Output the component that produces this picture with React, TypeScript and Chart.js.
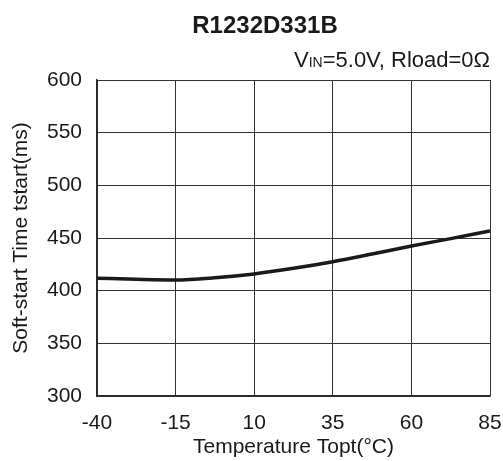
import React, { useEffect, useRef } from "react";
import { Chart, registerables } from "chart.js";

Chart.register(...registerables);

const temperatures = [-40, -27.5, -15, -2.5, 10, 22.5, 35, 47.5, 60, 72.5, 85];
const startTimes = [411.8, 410.8, 410.2, 412.3, 415.9, 421.2, 427.5, 434.8, 442.4, 449.4, 456.7];
const xTicks = [-40, -15, 10, 35, 60, 85];
const yTicks = [300, 350, 400, 450, 500, 550, 600];
const titleText = "R1232D331B";
const subtitleParts = ["V", "IN", "=5.0V, Rload=0Ω"];
const xTitle = "Temperature Topt(°C)";
const yTitle = "Soft-start Time tstart(ms)";

const FONT = "'Liberation Sans', Arial, sans-serif";

const titlePlugin = {
  id: "customTitles",
  afterDraw(chart: any) {
    const ctx = chart.ctx as CanvasRenderingContext2D;
    const area = chart.chartArea;
    ctx.save();
    ctx.fillStyle = "#1a1a1a";
    ctx.textBaseline = "alphabetic";
    ctx.font = `bold 24px ${FONT}`;
    ctx.textAlign = "center";
    ctx.fillText(titleText, 265, 33);

    const big = `22px ${FONT}`;
    const small = `14px ${FONT}`;
    ctx.textAlign = "left";
    ctx.font = big;
    const w0 = ctx.measureText(subtitleParts[0]).width;
    const w2 = ctx.measureText(subtitleParts[2]).width;
    ctx.font = small;
    const w1 = ctx.measureText(subtitleParts[1]).width;
    let x = area.right - (w0 + w1 + w2);
    const y = 67;
    ctx.font = big;
    ctx.fillText(subtitleParts[0], x, y);
    x += w0;
    ctx.font = small;
    ctx.fillText(subtitleParts[1], x, y);
    x += w1;
    ctx.font = big;
    ctx.fillText(subtitleParts[2], x, y);
    ctx.restore();
  },
};

export default function App() {
  const ref = useRef<HTMLCanvasElement | null>(null);
  useEffect(() => {
    if (!ref.current) return;
    const chart = new Chart(ref.current, {
      type: "line",
      data: {
        datasets: [
          {
            data: temperatures.map((t, i) => ({ x: t, y: startTimes[i] })),
            borderColor: "#1a1a1a",
            borderWidth: 3.5,
            pointRadius: 0,
            cubicInterpolationMode: "monotone",
            fill: false,
          },
        ],
      },
      options: {
        animation: false,
        responsive: false,
        layout: { padding: { top: 80, right: 13, left: 0, bottom: 0 } },
        plugins: { legend: { display: false }, tooltip: { enabled: false }, title: { display: false } },
        scales: {
          x: {
            type: "linear",
            min: -40,
            max: 85,
            afterFit: (s: any) => {
              s.height = 65;
              s.paddingRight = 0;
              s.paddingLeft = 0;
            },
            afterBuildTicks: (s: any) => {
              s.ticks = xTicks.map((v) => ({ value: v }));
            },
            grid: { color: "#333333", lineWidth: 1, drawTicks: false },
            border: { color: "#2a2a2a", width: 1.5 },
            ticks: { color: "#1a1a1a", font: { family: FONT, size: 21 }, padding: 15, maxRotation: 0 },
            title: {
              display: true,
              text: xTitle,
              color: "#1a1a1a",
              font: { family: FONT, size: 21 },
              padding: { top: 0, bottom: 1 },
            },
          },
          y: {
            type: "linear",
            min: 300,
            max: 600,
            afterFit: (s: any) => {
              s.width = 97;
            },
            afterBuildTicks: (s: any) => {
              s.ticks = yTicks.map((v) => ({ value: v }));
            },
            grid: { color: "#333333", lineWidth: 1, drawTicks: false },
            border: { color: "#2a2a2a", width: 1.5 },
            ticks: { color: "#1a1a1a", font: { family: FONT, size: 21 }, padding: 15 },
            title: {
              display: true,
              text: yTitle,
              color: "#1a1a1a",
              font: { family: FONT, size: 21 },
              padding: { top: 9, bottom: 0 },
            },
          },
        },
      },
      plugins: [titlePlugin],
    } as any);
    return () => chart.destroy();
  }, []);
  return (
    <div style={{ position: "absolute", left: 0, top: 0, width: 503, height: 461, background: "#fff" }}>
      <canvas ref={ref} width={503} height={461} style={{ width: 503, height: 461, display: "block" }} />
    </div>
  );
}
